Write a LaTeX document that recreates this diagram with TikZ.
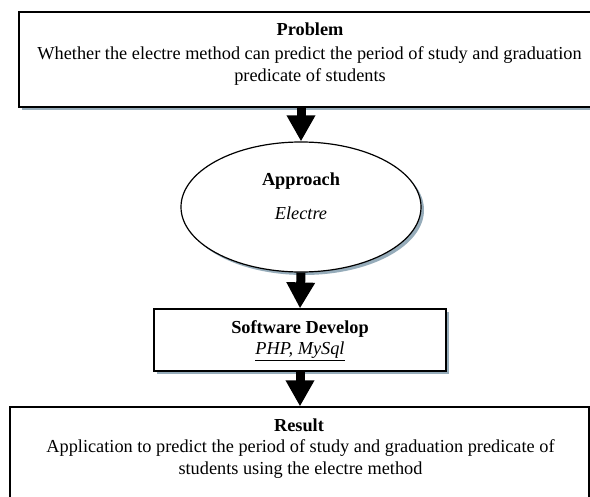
\documentclass[tikz,border=0pt]{standalone}
\usepackage{fontspec}
\setmainfont{Liberation Serif}
\usetikzlibrary{arrows.meta,shapes.geometric,shadows}
\definecolor{shadowblue}{RGB}{150,172,186}
\tikzset{
  flowbox/.style={draw=black, line width=1.2pt, fill=white, inner sep=0pt,
    copy shadow={shadow xshift=3pt, shadow yshift=-3pt, draw=none, fill=shadowblue}},
  flowtext/.style={anchor=base, inner sep=0pt, font=\fontsize{18.3}{22}\selectfont},
  flowarrow/.style={line width=9pt, -{Triangle[width=27pt,length=26pt]}}
}
\begin{document}
\begin{tikzpicture}[x=1pt,y=-1pt]
  \useasboundingbox (0,0) rectangle (590,497);
  \clip (0,0) rectangle (590,497);

  % boxes
  \node[flowbox, minimum width=581pt, minimum height=95pt] (problem) at (309.5,59.5) {};
  \node[flowbox, ellipse, minimum width=240pt, minimum height=130pt] (approach) at (301,207) {};
  \node[flowbox, minimum width=292pt, minimum height=62pt] (software) at (300,340) {};
  \node[flowbox, minimum width=579pt, minimum height=113pt] (result) at (299.5,463.5) {};

  % texts
  \node[flowtext] (problemtitle) at (310,36) {\textbf{Problem}};
  \node[flowtext] (problemline1) at (309.5,60) {Whether the electre method can predict the period of study and graduation};
  \node[flowtext] (problemline2) at (310,82) {predicate of students};

  \node[flowtext] (approachtitle) at (301,186) {\textbf{Approach}};
  \node[flowtext] (approachtext) at (301,220) {\textit{Electre}};

  \node[flowtext] (softwaretitle) at (300,334) {\textbf{Software Develop}};
  \node[flowtext] (softwaretext) at (300,355) {\underline{\textit{PHP, MySql}}};

  \node[flowtext] (resulttitle) at (299,432) {\textbf{Result}};
  \node[flowtext] (resultline1) at (300.5,453) {Application to predict the period of study and graduation predicate of};
  \node[flowtext] (resultline2) at (300.5,475) {students using the electre method};

  % arrows
  \draw[flowarrow] (approach.north |- problem.south) -- (approach.north);
  \draw[flowarrow] (approach.south) -- (software.north);
  \draw[flowarrow] (software.south) -- (software.south |- result.north);
\end{tikzpicture}
\end{document}
